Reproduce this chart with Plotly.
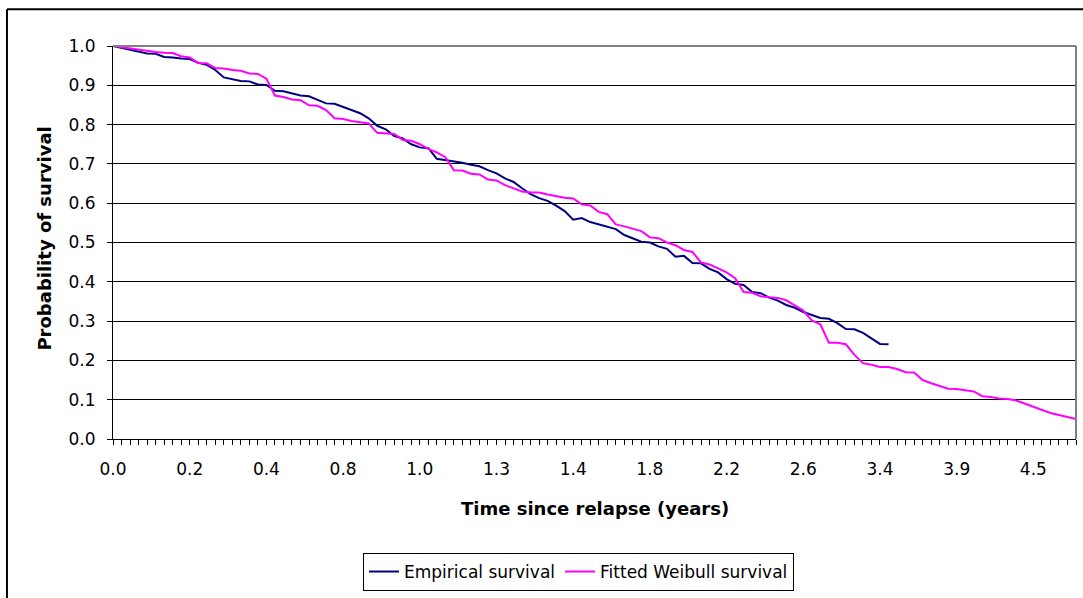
import plotly.graph_objects as go

# Category axis: one category per observation, a label every 9th category
tick_labels = ["0.0", "0.2", "0.4", "0.8", "1.0", "1.3", "1.4",
               "1.8", "2.2", "2.6", "3.4", "3.9", "4.5"]
label_step = 9

empirical = [
    1.000, 0.995, 0.990, 0.985, 0.981, 0.980, 0.972, 0.971, 0.968, 0.967,
    0.957, 0.952, 0.939, 0.920, 0.915, 0.911, 0.910, 0.902, 0.901, 0.886,
    0.885, 0.879, 0.874, 0.872, 0.862, 0.854, 0.853, 0.845, 0.837, 0.829,
    0.816, 0.797, 0.788, 0.771, 0.765, 0.750, 0.742, 0.740, 0.713, 0.710,
    0.707, 0.703, 0.698, 0.694, 0.684, 0.676, 0.663, 0.654, 0.638, 0.623,
    0.613, 0.606, 0.594, 0.580, 0.558, 0.562, 0.552, 0.546, 0.541, 0.534,
    0.519, 0.510, 0.502, 0.500, 0.490, 0.484, 0.464, 0.466, 0.448, 0.447,
    0.433, 0.424, 0.407, 0.395, 0.392, 0.374, 0.371, 0.360, 0.352, 0.341,
    0.334, 0.323, 0.316, 0.308, 0.306, 0.295, 0.280, 0.279, 0.270, 0.256,
    0.242, 0.241,
]

weibull = [
    1.000, 0.997, 0.994, 0.990, 0.988, 0.985, 0.983, 0.982, 0.974, 0.971,
    0.957, 0.956, 0.944, 0.943, 0.939, 0.937, 0.930, 0.929, 0.917, 0.874,
    0.870, 0.864, 0.862, 0.849, 0.848, 0.837, 0.816, 0.814, 0.809, 0.806,
    0.803, 0.779, 0.778, 0.776, 0.761, 0.759, 0.750, 0.738, 0.729, 0.717,
    0.684, 0.683, 0.675, 0.673, 0.660, 0.658, 0.646, 0.637, 0.630, 0.627,
    0.627, 0.622, 0.618, 0.614, 0.612, 0.597, 0.594, 0.578, 0.572, 0.546,
    0.541, 0.535, 0.529, 0.513, 0.511, 0.500, 0.493, 0.481, 0.476, 0.449,
    0.444, 0.434, 0.424, 0.409, 0.374, 0.372, 0.363, 0.361, 0.359, 0.353,
    0.340, 0.327, 0.302, 0.292, 0.245, 0.245, 0.241, 0.214, 0.193, 0.189,
    0.183, 0.183, 0.178, 0.170, 0.169, 0.150, 0.142, 0.134, 0.128, 0.127,
    0.124, 0.121, 0.109, 0.107, 0.103, 0.102, 0.098, 0.090, 0.082, 0.076,
    0.066, 0.061, 0.056, 0.051,
]

FONT = "DejaVu Sans"
n_cat = len(weibull)

fig = go.Figure()
fig.add_trace(go.Scatter(
    x=list(range(len(empirical))), y=empirical, mode="lines",
    name="Empirical survival", line=dict(color="#000080", width=2),
))
fig.add_trace(go.Scatter(
    x=list(range(len(weibull))), y=weibull, mode="lines",
    name="Fitted Weibull survival", line=dict(color="#FF00FF", width=2),
))

fig.update_layout(
    width=1083, height=598,
    margin=dict(l=113, r=7, t=46, b=155),
    paper_bgcolor="white", plot_bgcolor="white",
    font=dict(family=FONT, size=17, color="black"),
    showlegend=True,
    legend=dict(
        orientation="h", x=0.4834, xanchor="center", y=-0.29, yanchor="top",
        bordercolor="black", borderwidth=1, bgcolor="white",
        font=dict(family=FONT, size=17), itemwidth=30,
    ),
    xaxis=dict(
        range=[0, n_cat - 1],
        tickmode="array",
        tickvals=[k * label_step for k in range(len(tick_labels))],
        ticktext=tick_labels,
        ticks="outside", ticklen=5, tickcolor="black", tickwidth=1,
        ticklabelstandoff=10,
        showline=True, linecolor="black", linewidth=1,
        showgrid=False, zeroline=False,
        minor=dict(dtick=1, tick0=0, ticks="outside", ticklen=5,
                   tickcolor="black", tickwidth=1, showgrid=False),
    ),
    yaxis=dict(
        range=[0, 1], dtick=0.1, tick0=0, tickformat=".1f",
        ticks="outside", ticklen=5, tickcolor="black", tickwidth=1,
        ticklabelstandoff=8,
        showline=True, linecolor="black", linewidth=1,
        showgrid=True, gridcolor="black", gridwidth=1, zeroline=False,
    ),
    annotations=[
        dict(text="<b>Time since relapse (years)</b>", xref="paper", yref="paper",
             x=0.5, y=-0.1763, xanchor="center", yanchor="middle",
             showarrow=False, font=dict(family=FONT, size=18)),
        dict(text="<b>Probability of survival</b>", xref="paper", yref="paper",
             x=-0.0706, y=0.51, xanchor="center", yanchor="middle", textangle=-90,
             showarrow=False, font=dict(family=FONT, size=18)),
    ],
    shapes=[
        # plot-area frame, top and right
        dict(type="line", xref="paper", yref="paper", x0=0, x1=1, y0=1, y1=1,
             line=dict(color="#808080", width=2)),
        dict(type="line", xref="paper", yref="paper", x0=1, x1=1, y0=0, y1=1,
             line=dict(color="#808080", width=2)),
        # outer chart border
        dict(type="line", xref="paper", yref="paper", x0=-0.1101, x1=-0.1101,
             y0=-0.5, y1=1.0932, line=dict(color="black", width=2)),
        dict(type="line", xref="paper", yref="paper", x0=-0.1101, x1=1.2,
             y0=1.0932, y1=1.0932, line=dict(color="black", width=2)),
    ],
)

fig.write_html("out.html")
